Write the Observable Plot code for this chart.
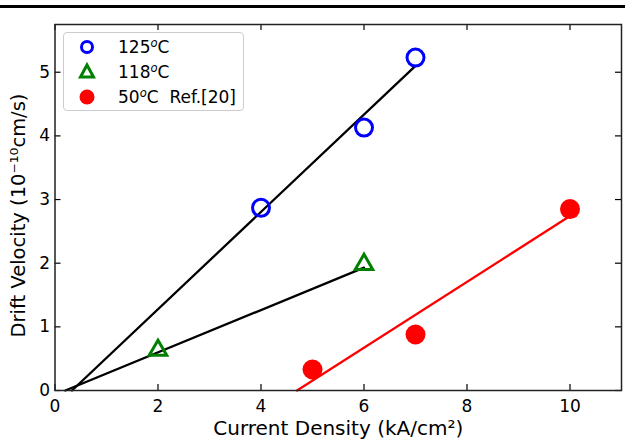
<!DOCTYPE html>
<html>
<head>
<meta charset="utf-8">
<script src="https://cdn.jsdelivr.net/npm/d3@7"></script>
<script src="https://cdn.jsdelivr.net/npm/@observablehq/plot@0.6"></script>
<style>
  html, body { margin: 0; padding: 0; background: #fff; }
  #wrap { position: relative; width: 625px; height: 445px; overflow: hidden; font-family: "DejaVu Sans", sans-serif; }
  #topbar { position: absolute; left: 0; top: 5px; width: 625px; height: 3px; background: #000; }
  #legend { position: absolute; left: 63px; top: 32px; width: 181px; height: 79px; border: 1px solid #ccc; border-radius: 4px; background: rgba(255,255,255,0.9); box-sizing: border-box; }
  .row { position: absolute; left: 0; height: 24px; font-size: 17px; color: #000; white-space: pre; }
  .row svg { position: absolute; left: 11px; top: 0; }
  .row span.lbl { position: absolute; left: 54px; line-height: 24px; top: 0; }
  .sup { font-size: 0.68em; font-style: italic; position: relative; top: -0.5em; }
</style>
</head>
<body>
<div id="wrap"><div id="topbar"></div></div>
<script>
// ---- data ----
const density125 = [4, 6, 7];
const velocity125 = [2.87, 4.13, 5.23];
const density118 = [2, 6];
const velocity118 = [0.60, 1.95];
const density50 = [5, 7, 10];
const velocity50 = [0.33, 0.88, 2.85];
// fitted lines (end points)
const fit125X = [0.33, 7];
const fit125Y = [0, 5.10];
const fit118X = [0.20, 6];
const fit118Y = [0, 1.93];
const fit50X = [4.70, 10];
const fit50Y = [0, 2.74];
const xTicks = [0, 2, 4, 6, 8, 10];
const yTicks = [0, 1, 2, 3, 4, 5];
const legendLabels = ["125", "118", "50"];
const xLabel = "Current Density (kA/cm\u00B2)";
const yLabel = "Drift Velocity (10\u207B\u00B9\u2070cm/s)";

const pts = (xs, ys) => xs.map((x, i) => ({x, y: ys[i]}));

const W = 625, H = 445;
const mTop = 24, mRight = 4, mBottom = 55, mLeft = 54.5;
const innerW = W - mLeft - mRight, innerH = H - mTop - mBottom;
const tick = 6;

const chart = Plot.plot({
  width: W, height: H,
  marginTop: mTop, marginRight: mRight, marginBottom: mBottom, marginLeft: mLeft,
  style: {fontFamily: "DejaVu Sans, sans-serif", fontSize: "17px", color: "#000", background: "transparent"},
  x: {domain: [0, 11], ticks: xTicks, label: null},
  y: {domain: [0, 5.75], ticks: yTicks, label: null},
  marks: [
    Plot.axisX({ticks: xTicks, tickFormat: d => String(d), tickSize: 0, tickPadding: 9, label: null, fontSize: 17}),
    Plot.axisY({ticks: yTicks, tickFormat: d => String(d), tickSize: 0, tickPadding: 5, label: null, fontSize: 17}),
    // inward ticks on all four sides
    Plot.tickX(xTicks, {x: d => d, insetTop: innerH - tick, stroke: "#000", strokeWidth: 1.2}),
    Plot.tickX(xTicks, {x: d => d, insetBottom: innerH - tick, stroke: "#000", strokeWidth: 1.2}),
    Plot.tickY(yTicks, {y: d => d, insetRight: innerW - tick, stroke: "#000", strokeWidth: 1.2}),
    Plot.tickY(yTicks, {y: d => d, insetLeft: innerW - tick, stroke: "#000", strokeWidth: 1.2}),
    // fit lines
    Plot.line(pts(fit125X, fit125Y), {x: "x", y: "y", stroke: "#000", strokeWidth: 2.3}),
    Plot.line(pts(fit118X, fit118Y), {x: "x", y: "y", stroke: "#000", strokeWidth: 2.3}),
    Plot.line(pts(fit50X, fit50Y), {x: "x", y: "y", stroke: "#ff0000", strokeWidth: 2.3}),
    // points
    Plot.dot(pts(density125, velocity125), {x: "x", y: "y", r: 8.5, stroke: "#0000ff", strokeWidth: 3, fill: "none"}),
    Plot.dot(pts(density118, velocity118), {x: "x", y: "y", r: 6.5, symbol: "triangle", dy: -2, stroke: "#008000", strokeWidth: 3, fill: "none"}),
    Plot.dot(pts(density50, velocity50), {x: "x", y: "y", r: 10, fill: "#ff0000", stroke: "none"}),
    Plot.frame({stroke: "#222", strokeWidth: 1.5}),
    // axis titles
    Plot.text([xLabel], {frameAnchor: "bottom", dy: 44, fontSize: 20, fill: "#000", textAnchor: "middle"}),
    Plot.text([yLabel], {frameAnchor: "left", textAnchor: "middle", rotate: -90, dx: -36, dy: 8, fontSize: 19.5, fill: "#000"})
  ]
});
chart.style.position = "absolute";
chart.style.left = "0";
chart.style.top = "0";
const wrap = document.getElementById("wrap");
wrap.appendChild(chart);

// legend
const legend = document.createElement("div");
legend.id = "legend";
const rowsTop = [2, 26.5, 52];
const markers = [
  '<svg width="24" height="24"><circle cx="12" cy="12" r="5.5" fill="none" stroke="#0000ff" stroke-width="3"/></svg>',
  '<svg width="24" height="24"><path d="M12,5 L18.5,17 L5.5,17 Z" fill="none" stroke="#008000" stroke-width="3" stroke-linejoin="miter"/></svg>',
  '<svg width="24" height="24"><circle cx="12" cy="12" r="7.5" fill="#ff0000"/></svg>'
];
const suffix = ["C", "C", "C  Ref.[20]"];
legendLabels.forEach((t, i) => {
  const row = document.createElement("div");
  row.className = "row";
  row.style.top = rowsTop[i] + "px";
  row.style.width = "178px";
  row.innerHTML = markers[i] + '<span class="lbl">' + t + '<span class="sup">o</span>' + suffix[i] + '</span>';
  legend.appendChild(row);
});
wrap.appendChild(legend);
</script>
</body>
</html>
